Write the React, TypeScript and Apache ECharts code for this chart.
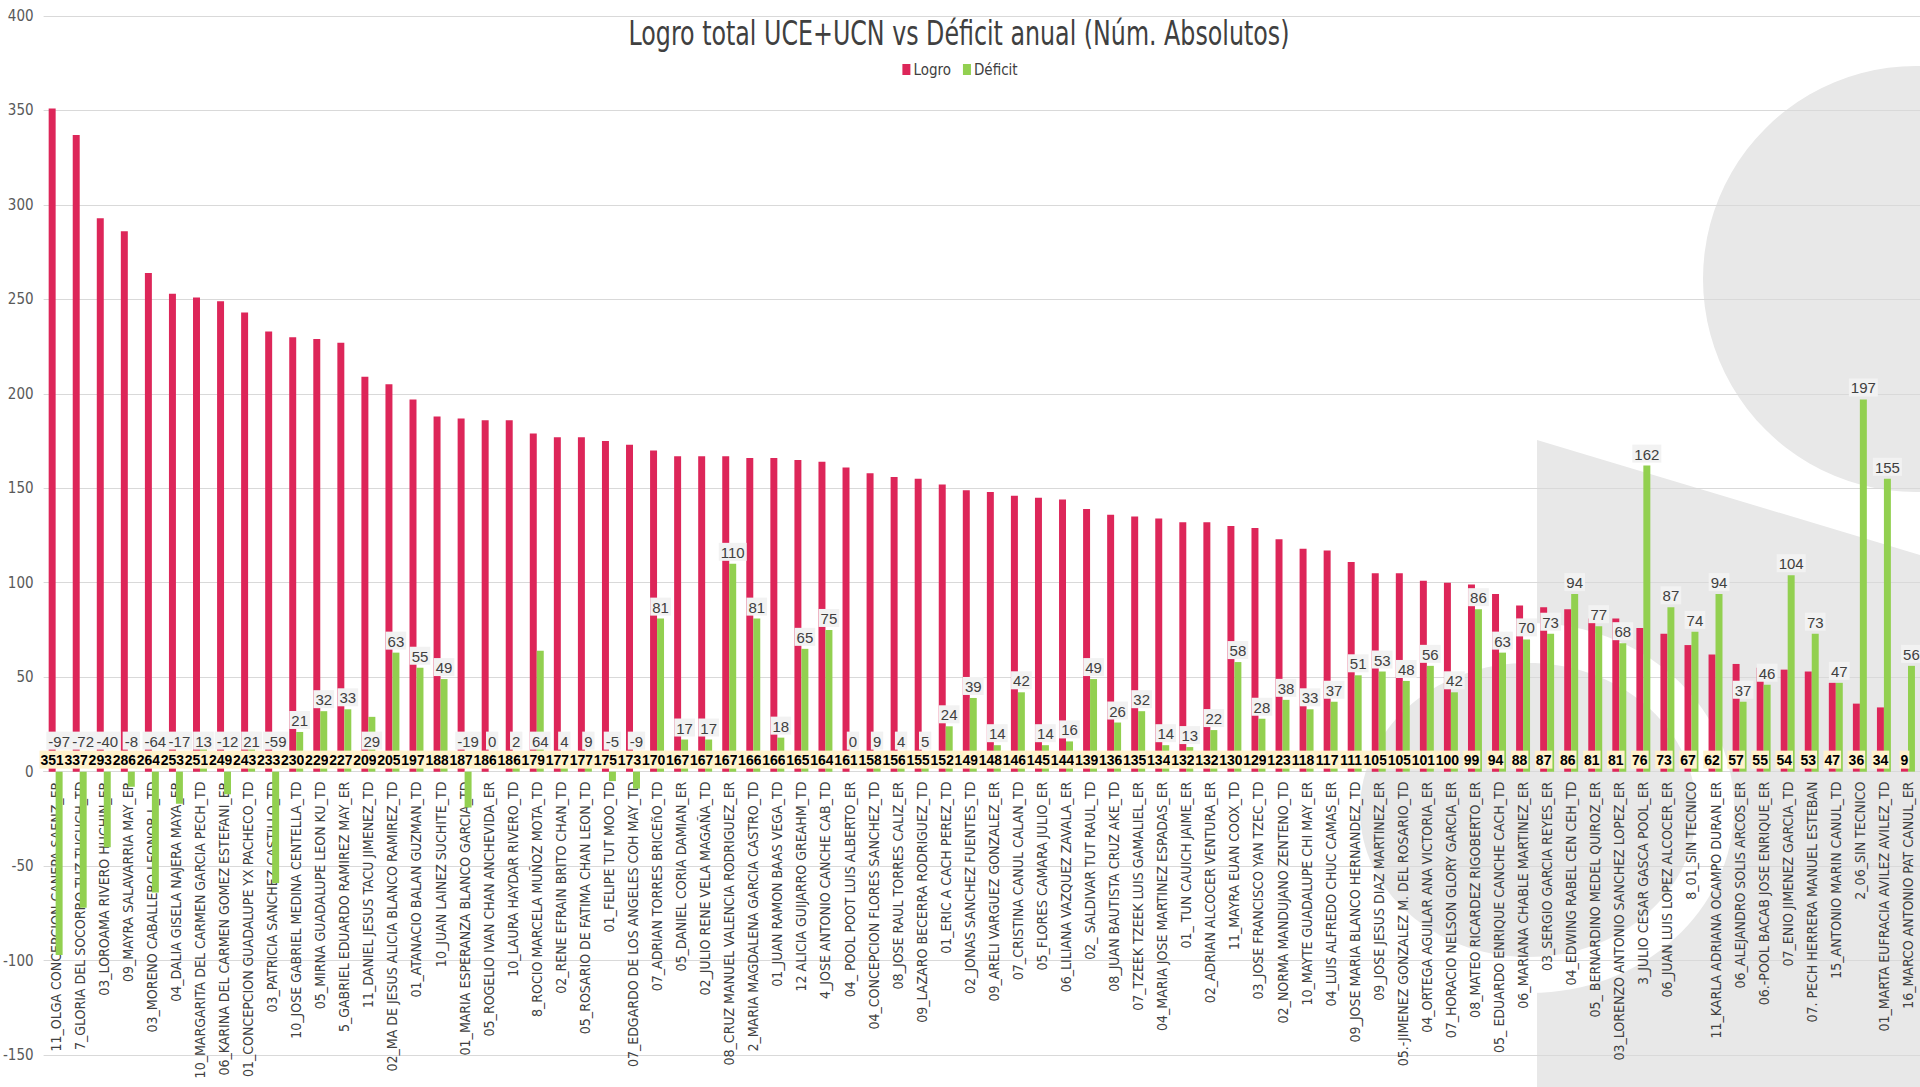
import React, { useEffect, useRef } from "react";
import * as echarts from "echarts";

const categories: string[] = [
  "11_OLGA CONCEPCION CANEPA SAENZ_ER",
  "7_GLORIA DEL SOCORRO TUZ TUCUCH_TD",
  "03_LOROAMA RIVERO HUCHIN_ER",
  "09_MAYRA SALAVARRIA MAY_ER",
  "03_MORENO CABALLERO LEONOR I._TD",
  "04_DALIA GISELA NAJERA MAYA_ER",
  "10_MARGARITA DEL CARMEN GARCIA PECH_TD",
  "06_KARINA DEL CARMEN GOMEZ ESTEFANI_ER",
  "01_CONCEPCION GUADALUPE YX PACHECO_TD",
  "03_PATRICIA SANCHEZ CASTILLO_TD",
  "10_JOSE GABRIEL MEDINA CENTELLA_TD",
  "05_MIRNA GUADALUPE LEON KU_TD",
  "5_GABRIEL EDUARDO RAMIREZ MAY_ER",
  "11_DANIEL JESUS TACU JIMENEZ_TD",
  "02_MA DE JESUS ALICIA BLANCO RAMIREZ_TD",
  "01_ATANACIO BALAN GUZMAN_TD",
  "10_JUAN LAINEZ SUCHITE_TD",
  "01_MARIA ESPERANZA BLANCO GARCIA_TD",
  "05_ROGELIO IVAN CHAN ANCHEVIDA_ER",
  "10_LAURA HAYDAR RIVERO_TD",
  "8_ROCIO MARCELA MUÑOZ MOTA_TD",
  "02_RENE EFRAIN BRITO CHAN_TD",
  "05_ROSARIO DE FATIMA CHAN LEON_TD",
  "01_FELIPE TUT MOO_TD",
  "07_EDGARDO DE LOS ANGELES COH MAY_TD",
  "07_ADRIAN TORRES BRICEñO_TD",
  "05_DANIEL CORIA DAMIAN_ER",
  "02_JULIO RENE VELA MAGAÑA_TD",
  "08_CRUZ MANUEL VALENCIA RODRIGUEZ_ER",
  "2_MARIA MAGDALENA GARCIA CASTRO_TD",
  "01_JUAN RAMON BAAS VEGA_TD",
  "12 ALICIA GUIJARRO GREAHM_TD",
  "4_JOSE ANTONIO CANCHE CAB_TD",
  "04_ POOL POOT LUIS ALBERTO_ER",
  "04_CONCEPCION FLORES SANCHEZ_TD",
  "08_JOSE RAUL TORRES CALIZ_ER",
  "09_LAZARO BECERRA RODRIGUEZ_TD",
  "01_ERIC A CACH PEREZ_TD",
  "02_JONAS SANCHEZ FUENTES_TD",
  "09_ARELI VARGUEZ GONZALEZ_ER",
  "07_CRISTINA CANUL CALAN_TD",
  "05_FLORES CAMARA JULIO_ER",
  "06_LILIANA VAZQUEZ ZAVALA_ER",
  "02_ SALDIVAR TUT RAUL_TD",
  "08_JUAN BAUTISTA CRUZ AKE_TD",
  "07_TZEEK TZEEK LUIS GAMALIEL_ER",
  "04_MARIA JOSE MARTINEZ ESPADAS_ER",
  "01_ TUN CAUICH JAIME_ER",
  "02_ADRIAN ALCOCER VENTURA_ER",
  "11_MAYRA EUAN COOX_TD",
  "03_JOSE FRANCISCO YAN TZEC_TD",
  "02_NORMA MANDUJANO ZENTENO_TD",
  "10_MAYTE GUADALUPE CHI MAY_ER",
  "04_LUIS ALFREDO CHUC CAMAS_ER",
  "09_JOSE MARIA BLANCO HERNANDEZ_TD",
  "09_JOSE JESUS DIAZ MARTINEZ_ER",
  "05.-JIMENEZ GONZALEZ M. DEL ROSARIO_TD",
  "04_ORTEGA AGUILAR ANA VICTORIA_ER",
  "07_HORACIO NELSON GLORY GARCIA_ER",
  "08_MATEO RICARDEZ RIGOBERTO_ER",
  "05_ EDUARDO ENRIQUE CANCHE CACH_TD",
  "06_MARIANA CHABLE MARTINEZ_ER",
  "03_SERGIO GARCIA REYES_ER",
  "04_EDWING RABEL CEN CEH_TD",
  "05_ BERNARDINO MEDEL QUIROZ_ER",
  "03_LORENZO ANTONIO SANCHEZ LOPEZ_ER",
  "3_JULIO CESAR GASCA POOL_ER",
  "06_JUAN LUIS LOPEZ ALCOCER_ER",
  "8_01_SIN TECNICO",
  "11_KARLA ADRIANA OCAMPO DURAN_ER",
  "06_ALEJANDRO SOLIS ARCOS_ER",
  "06.-POOL BACAB JOSE ENRIQUE_ER",
  "07_ENIO JIMENEZ GARCIA_TD",
  "07. PECH HERRERA MANUEL ESTEBAN",
  "15_ANTONIO MARIN CANUL_TD",
  "2_06_SIN TECNICO",
  "01_MARTA EUFRACIA AVILEZ AVILEZ_TD",
  "16_MARCO ANTONIO PAT CANUL_ER",
];

const logro: number[] = [
  351, 337, 293, 286, 264, 253, 251, 249, 243, 233, 230, 229, 227, 209, 205, 197, 188, 187, 186, 186,
  179, 177, 177, 175, 173, 170, 167, 167, 167, 166, 166, 165, 164, 161, 158, 156, 155, 152, 149, 148,
  146, 145, 144, 139, 136, 135, 134, 132, 132, 130, 129, 123, 118, 117, 111, 105, 105, 101, 100, 99,
  94, 88, 87, 86, 81, 81, 76, 73, 67, 62, 57, 55, 54, 53, 47, 36, 34, 9,
];

const deficit: number[] = [
  -97, -72, -40, -8, -64, -17, 13, -12, 21, -59, 21, 32, 33, 29, 63, 55, 49, -19, 0, 2,
  64, 4, 9, -5, -9, 81, 17, 17, 110, 81, 18, 65, 75, 0, 9, 4, 5, 24, 39, 14,
  42, 14, 16, 49, 26, 32, 14, 13, 22, 58, 28, 38, 33, 37, 51, 53, 48, 56, 42, 86,
  63, 70, 73, 94, 77, 68, 162, 87, 74, 94, 37, 46, 104, 73, 47, 197, 155, 56,
];

const seriesNames = ["Logro", "Déficit"];
const titleText = "Logro total UCE+UCN vs Déficit anual (Núm. Absolutos)";
const Y_MIN = -150;
const Y_MAX = 400;
const Y_INTERVAL = 50;

// deficit labels that sit in the row just above the base (style override)
const baseRowLabelIdx = [6, 8, 13, 20];

export default function App() {
  const ref = useRef<HTMLDivElement>(null);
  useEffect(() => {
    const chart = echarts.init(ref.current!, null, { renderer: "svg" });
    const H = 1087;
    const gridTop = 16;
    const gridBottom = 32;
    const pxu = (H - gridTop - gridBottom) / (Y_MAX - Y_MIN);
    const FONT = "'DejaVu Sans Condensed', 'Liberation Sans', sans-serif";
    const NUM_FONT = "'Liberation Sans', Arial, sans-serif";
    const GRAY = "#E8E8E8";

    const deficitData = deficit.map((v, i) => {
      const low = v < 10 || baseRowLabelIdx.includes(i);
      if (!low) return v;
      return { value: v, label: { offset: [0, pxu * Math.max(v, 0) - 19] } };
    });

    chart.setOption({
      animation: false,
      backgroundColor: "#ffffff",
      graphic: [
        { type: "circle", silent: true, z: -13, shape: { cx: 1916, cy: 279, r: 213 }, style: { fill: GRAY } },
        {
          type: "polygon",
          silent: true,
          z: -12,
          shape: { points: [[1537, 440], [1920, 555], [1920, 1087], [1537, 1087]] },
          style: { fill: GRAY },
        },
        { type: "ellipse", silent: true, z: -11, shape: { cx: 1530, cy: 808, rx: 204, ry: 185 }, style: { fill: "#ffffff" } },
        { type: "ellipse", silent: true, z: -10, shape: { cx: 1528, cy: 810, rx: 168, ry: 147 }, style: { fill: GRAY } },
        {
          type: "text",
          silent: true,
          z: 10,
          x: 959,
          y: 33,
          scaleX: 0.8,
          style: {
            text: titleText,
            fill: "#404040",
            font: "normal 33px " + FONT,
            textAlign: "center",
            textVerticalAlign: "middle",
          },
        },
      ],
      legend: {
        data: seriesNames,
        top: 57,
        left: "center",
        icon: "rect",
        itemWidth: 8,
        itemHeight: 11,
        itemGap: 12,
        textStyle: { fontFamily: FONT, fontSize: 15, color: "#404040", padding: [0, 0, 0, -2] },
      },
      grid: { left: 33, right: 0, top: gridTop, bottom: gridBottom, containLabel: false },
      xAxis: {
        type: "category",
        data: categories,
        position: "bottom",
        offset: Y_MIN * pxu,
        axisLine: { show: true, onZero: false, lineStyle: { color: "#D9D9D9", width: 1 } },
        axisTick: { show: false },
        axisLabel: {
          interval: 0,
          rotate: 90,
          margin: 10,
          fontFamily: FONT,
          fontSize: 14,
          color: "#404040",
        },
        splitLine: { show: false },
      },
      yAxis: {
        type: "value",
        min: Y_MIN,
        max: Y_MAX,
        interval: Y_INTERVAL,
        axisLine: { show: false },
        axisTick: { show: false },
        axisLabel: { margin: 10, fontFamily: FONT, fontSize: 15, color: "#595959" },
        splitLine: { lineStyle: { color: "#D9D9D9", width: 1 } },
      },
      series: [
        {
          name: seriesNames[0],
          type: "bar",
          data: logro,
          barGap: "0%",
          barCategoryGap: "42%",
          itemStyle: { color: "#DD2659" },
          label: {
            show: true,
            position: "bottom",
            distance: -21,
            fontFamily: NUM_FONT,
            fontSize: 14,
            lineHeight: 15,
            fontWeight: "bold",
            color: "#000000",
            backgroundColor: "#FFF2CC",
            padding: [2, 1, 1, 1],
          },
          z: 2,
        },
        {
          name: seriesNames[1],
          type: "bar",
          data: deficitData,
          barGap: "0%",
          barCategoryGap: "42%",
          itemStyle: { color: "#92D050" },
          label: {
            show: true,
            position: "top",
            distance: 3,
            fontFamily: NUM_FONT,
            fontSize: 15,
            lineHeight: 15,
            color: "#404040",
            backgroundColor: "#F2F2F2",
            padding: [2, 2, 1, 2],
          },
          z: 2,
        },
      ],
    });
    return () => chart.dispose();
  }, []);
  return <div ref={ref} style={{ position: "fixed", left: 0, top: 0, width: 1920, height: 1087 }} />;
}
